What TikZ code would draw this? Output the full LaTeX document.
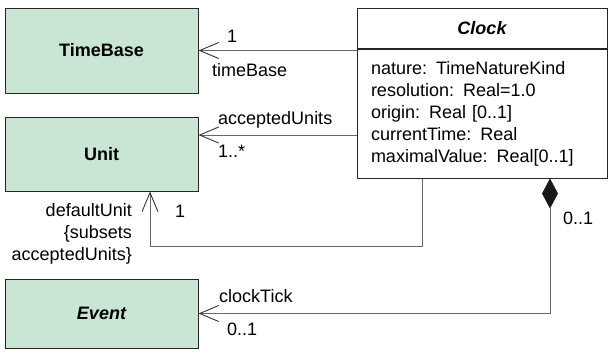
\documentclass[tikz,border=0pt]{standalone}
\usepackage{fontspec}
\setmainfont{Liberation Sans}
\usetikzlibrary{arrows.meta,shadows,positioning}
\definecolor{mintbg}{RGB}{201,230,212}

\begin{document}
\begin{tikzpicture}
	[x=1pt,y=-1pt,
	txt/.style={font=\fontsize{18}{22}\selectfont},
	classbox/.style={draw=black!85,line width=1pt,fill=mintbg,font=\fontsize{18}{22}\selectfont\bfseries,minimum width=193pt,general shadow={fill=black!45,shadow xshift=1.2pt,shadow yshift=-1.2pt}},
	clockbox/.style={draw=black!85,line width=1pt,fill=white,minimum width=250pt,general shadow={fill=black!45,shadow xshift=1.2pt,shadow yshift=-1.2pt}},
	lbl/.style={txt,inner sep=0pt},
	assoc/.style={draw=black!60,line width=0.9pt,-{Straight Barb[length=19pt,width=16pt,black!80]}},
	compo/.style={draw=black!60,line width=0.9pt,{Diamond[length=30pt,width=16pt,black!90]}-{Straight Barb[length=19pt,width=16pt,black!80]}}]
	\useasboundingbox (0,0) rectangle (610,354);

	\node[classbox,minimum height=85pt](timebase) at (101.5,50.5) {TimeBase};
	\node[classbox,minimum height=74pt](unit) at (101.5,154) {Unit};
	\node[classbox,minimum height=69pt,font=\fontsize{18}{22}\selectfont\bfseries\itshape](event) at (101.5,313.5) {Event};
	\node[clockbox,minimum height=40pt,font=\fontsize{18}{22}\selectfont\bfseries\itshape](clockhead) at (482,28) {Clock};
	\node[clockbox,minimum height=129pt,below=0pt of clockhead,txt,align=left,text width=222pt,inner xsep=14pt](clockattr)
		{nature: TimeNatureKind\\resolution: Real=1.0\\origin: Real [0..1]\\currentTime: Real\\maximalValue: Real[0..1]};

	% associations
	\path
	(timebase.east -| clockattr.west) edge[assoc] (timebase.east)
	([yshift=19pt]unit.east -| clockattr.west) edge[assoc] ([yshift=19pt]unit.east);
	\draw[assoc] ([xshift=-60pt]clockattr.south) |- ([xshift=48.5pt,yshift=-55pt]unit.south) -- ([xshift=48.5pt]unit.south);
	\draw[compo] ([xshift=68pt]clockattr.south) |- (event.east);

	% role names and multiplicities
	\node[lbl,anchor=base west](tbmult) at (227,42) {1};
	\node[lbl,anchor=base west](tbrole) at (212,76) {timeBase};
	\node[lbl,anchor=base west](aurole) at (218,124) {acceptedUnits};
	\node[lbl,anchor=base west](aumult) at (218,157) {1..*};
	\node[lbl,anchor=north east,align=right](durole) at (132,203) {defaultUnit\\\{subsets\\acceptedUnits\}};
	\node[lbl,anchor=base west](dumult) at (175,217) {1};
	\node[lbl,anchor=base west](ctrole) at (219,302) {clockTick};
	\node[lbl,anchor=base west](ctmult) at (227,335) {0..1};
	\node[lbl,anchor=base west](clkmult) at (563,224) {0..1};
\end{tikzpicture}
\end{document}
